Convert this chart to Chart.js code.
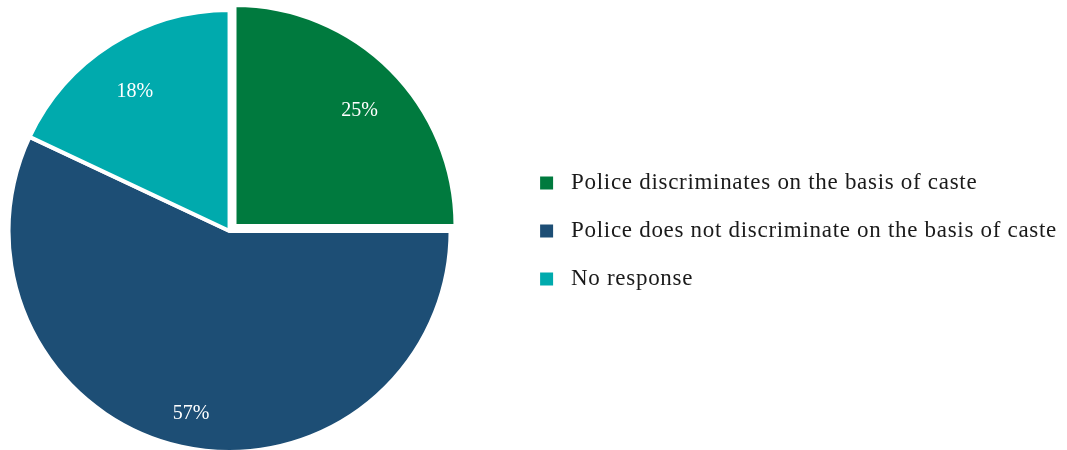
<!DOCTYPE html>
<html>
<head>
<meta charset="utf-8">
<script src="https://cdn.jsdelivr.net/npm/chart.js@4.4.1/dist/chart.umd.min.js"></script>
<style>
  html, body { margin: 0; padding: 0; background: #ffffff; overflow: hidden; }
  #wrap { position: relative; width: 1067px; height: 450px; overflow: hidden; }
  #c { position: absolute; left: -56px; top: 0; }
</style>
</head>
<body>
<div id="wrap"><canvas id="c" width="1123" height="450"></canvas></div>
<script>
const categories = [
  'Police discriminates on the basis of caste',
  'Police does not discriminate on the basis of caste',
  'No response'
];
const values = [25, 57, 18];
const colors = ['#007A3E', '#1D4E75', '#00AAAD'];
const offsets = [28, 0, 0];

const FONT = '"Liberation Serif", "Times New Roman", serif';
const LEGEND_SPACING = '0.7px';

const spacingPlugin = {
  id: 'spacing',
  beforeLayout(chart) { chart.ctx.letterSpacing = LEGEND_SPACING; },
  beforeDraw(chart) { chart.ctx.letterSpacing = LEGEND_SPACING; }
};

const pctLabels = {
  id: 'pctLabels',
  afterDatasetsDraw(chart) {
    const ctx = chart.ctx;
    const meta = chart.getDatasetMeta(0);
    const total = values.reduce((a, b) => a + b, 0);
    ctx.save();
    ctx.letterSpacing = '0px';
    ctx.fillStyle = '#ffffff';
    ctx.font = '20px ' + FONT;
    ctx.textAlign = 'center';
    ctx.textBaseline = 'top';
    meta.data.forEach((arc, i) => {
      const p = arc.getProps(['x', 'y', 'startAngle', 'endAngle', 'outerRadius'], true);
      const mid = (p.startAngle + p.endAngle) / 2;
      const r = p.outerRadius * 0.8;
      const off = offsets[i] / 4;
      const x = p.x + Math.cos(mid) * (r + off);
      const y = p.y + Math.sin(mid) * (r + off);
      ctx.fillText(Math.round(values[i] / total * 100) + '%', x, y);
    });
    ctx.restore();
  }
};

new Chart(document.getElementById('c'), {
  type: 'pie',
  data: {
    labels: categories,
    datasets: [{
      data: values,
      backgroundColor: colors,
      borderColor: '#ffffff',
      borderWidth: 4,
      offset: offsets
    }]
  },
  options: {
    responsive: false,
    animation: false,
    radius: 221,
    layout: { padding: { top: 12, left: 0, right: 0, bottom: 0 } },
    plugins: {
      tooltip: { enabled: false },
      legend: {
        position: 'right',
        align: 'center',
        labels: {
          boxWidth: 13,
          boxHeight: 13,
          padding: 25,
          color: '#1a1a1a',
          font: { family: FONT, size: 23 },
          generateLabels() {
            return categories.map((t, i) => ({
              text: ' ' + t,
              fillStyle: colors[i],
              strokeStyle: colors[i],
              lineWidth: 0,
              hidden: false,
              index: i,
              datasetIndex: 0,
              fontColor: '#1a1a1a'
            }));
          }
        }
      }
    }
  },
  plugins: [spacingPlugin, pctLabels]
});
</script>
</body>
</html>
